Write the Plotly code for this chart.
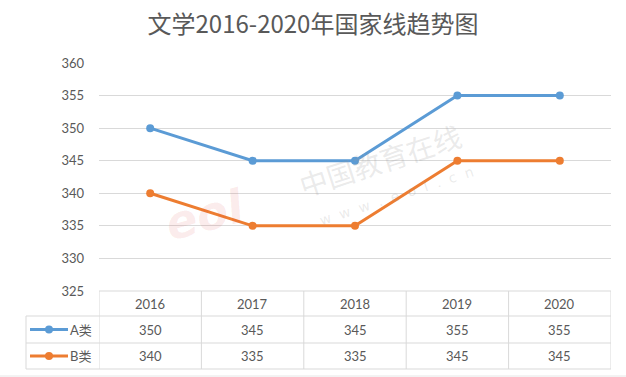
import plotly.graph_objects as go

# ---- data ----
years = ["2016", "2017", "2018", "2019", "2020"]
series_names = ["A类", "B类"]
a_values = [350, 345, 345, 355, 355]
b_values = [340, 335, 335, 345, 345]
y_ticks = [325, 330, 335, 340, 345, 350, 355, 360]
title_text = "文学2016-2020年国家线趋势图"

W, H = 626, 377
L, R, T, B = 99, 15, 63, 86
PH = H - T - B
PW = W - L - R

def py(ypix):
    """pixel y -> paper y"""
    return (H - B - ypix) / PH

def px(xpix):
    return (xpix - L) / PW

BLUE = "#5b9bd5"
ORANGE = "#ed7d31"
GRID = "#d9d9d9"
TXT = "#595959"
FONT = "Lato, 'Noto Sans CJK SC', sans-serif"

fig = go.Figure()
fig.add_trace(go.Scatter(x=years, y=a_values, name=series_names[0], mode="lines+markers",
                         line=dict(color=BLUE, width=3), marker=dict(size=8, color=BLUE),
                         cliponaxis=False, showlegend=False))
fig.add_trace(go.Scatter(x=years, y=b_values, name=series_names[1], mode="lines+markers",
                         line=dict(color=ORANGE, width=3), marker=dict(size=8, color=ORANGE),
                         cliponaxis=False, showlegend=False))

shapes = []
annotations = []

# table row boundaries (pixels)
row_top, row_a, row_b, row_bot = 291, 316, 343, 369
legend_left = 26

# horizontal lines
shapes.append(dict(type="line", xref="x", yref="paper", x0=-0.5, x1=len(years) - 0.5,
                   y0=py(row_top), y1=py(row_top), line=dict(color=GRID, width=1), layer="below"))
for yy in (row_a, row_b, row_bot):
    shapes.append(dict(type="line", xref="paper", yref="paper", x0=px(legend_left), x1=1,
                       y0=py(yy), y1=py(yy), line=dict(color=GRID, width=1)))
# vertical lines
for i in range(len(years) + 1):
    shapes.append(dict(type="line", xref="x", yref="paper", x0=i - 0.5, x1=i - 0.5,
                       y0=py(row_top), y1=py(row_bot), line=dict(color=GRID, width=1)))
shapes.append(dict(type="line", xref="paper", yref="paper", x0=px(legend_left), x1=px(legend_left),
                   y0=py(row_a), y1=py(row_bot), line=dict(color=GRID, width=1)))
# outer chart border line at bottom
shapes.append(dict(type="line", xref="paper", yref="paper", x0=px(0), x1=px(W),
                   y0=py(376), y1=py(376), line=dict(color="#e6e6e6", width=1)))

cell_font = dict(size=13, color=TXT, family=FONT)
# header
for i, yr in enumerate(years):
    annotations.append(dict(x=i, xref="x", y=py((row_top + row_a) / 2), yref="paper",
                            text=yr, showarrow=False, xanchor="center", yanchor="middle",
                            font=cell_font))
# rows
for vals, name, color, (r0, r1) in ((a_values, series_names[0], BLUE, (row_a, row_b)),
                                   (b_values, series_names[1], ORANGE, (row_b, row_bot))):
    ymid = py((r0 + r1) / 2)
    for i, v in enumerate(vals):
        annotations.append(dict(x=i, xref="x", y=ymid, yref="paper", text=str(v),
                                showarrow=False, xanchor="center", yanchor="middle",
                                font=cell_font))
    # legend key
    shapes.append(dict(type="line", xref="paper", yref="paper", x0=px(30), x1=px(68),
                       y0=ymid, y1=ymid, line=dict(color=color, width=3)))
    shapes.append(dict(type="circle", xref="paper", yref="paper", x0=px(45), x1=px(53),
                       y0=ymid - 4 / PH, y1=ymid + 4 / PH, fillcolor=color, line=dict(width=0)))
    annotations.append(dict(x=px(68), xref="paper", y=ymid, yref="paper", text=name,
                            xanchor="left", yanchor="middle", showarrow=False,
                            font=cell_font))

# watermark
annotations.append(dict(x=px(380), y=py(160), xref="paper", yref="paper", text="中国教育在线",
                        showarrow=False, textangle=-18, xanchor="center", yanchor="middle",
                        font=dict(size=28, color="rgba(150,150,150,0.2)",
                                  family="'Noto Sans CJK SC', sans-serif")))
annotations.append(dict(x=px(396), y=py(196), xref="paper", yref="paper",
                        text="w  w  w  .  e  o  l  .  c  n",
                        showarrow=False, textangle=-18, xanchor="center", yanchor="middle",
                        font=dict(size=14, color="rgba(150,150,150,0.2)", family="DejaVu Sans")))
annotations.append(dict(x=px(205), y=py(215), xref="paper", yref="paper", text="<b><i>eol</i></b>",
                        showarrow=False, textangle=-15, xanchor="center", yanchor="middle",
                        font=dict(size=46, color="rgba(220,60,60,0.10)", family="DejaVu Sans")))

fig.update_layout(
    width=W, height=H,
    margin=dict(l=L, r=R, t=T, b=B, pad=0),
    paper_bgcolor="white", plot_bgcolor="white",
    title=dict(text=title_text, x=0.5, xref="container", xanchor="center", y=1 - 25 / H,
               yref="container", yanchor="middle",
               font=dict(size=24, color=TXT, family="'Noto Sans CJK SC', sans-serif")),
    xaxis=dict(type="category", categoryorder="array", categoryarray=years,
               range=[-0.5, len(years) - 0.5], showticklabels=False, showgrid=False,
               zeroline=False, showline=False, ticks=""),
    yaxis=dict(range=[y_ticks[0], y_ticks[-1]], tickvals=y_ticks, showgrid=True, gridcolor=GRID,
               gridwidth=1, zeroline=False, showline=False, ticks="", ticklabelstandoff=14,
               tickfont=dict(size=13, color=TXT, family=FONT)),
    shapes=shapes, annotations=annotations,
)

fig.write_html("out.html", config={"displayModeBar": False},
               post_script="document.body.style.margin='0';document.body.style.padding='0';")
